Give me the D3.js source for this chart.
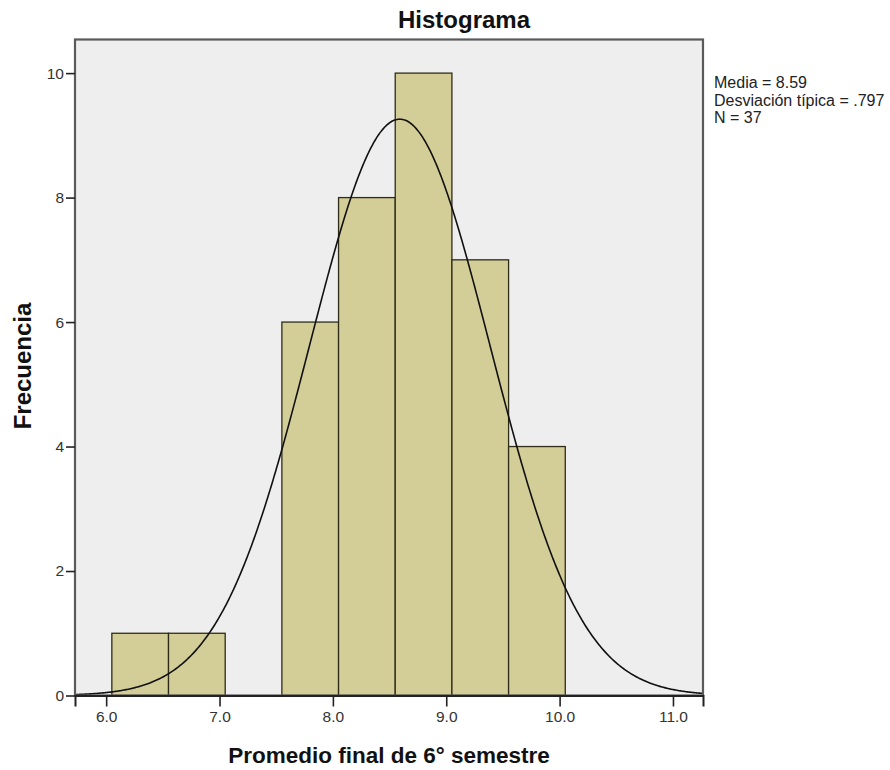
<!DOCTYPE html>
<html>
<head>
<meta charset="utf-8">
<script src="https://cdn.jsdelivr.net/npm/d3@7/dist/d3.min.js"></script>
<style>
  body { margin: 0; background: #ffffff; }
  svg text { font-family: Arial, "Liberation Sans", sans-serif; }
</style>
</head>
<body>
<svg id="chart" width="890" height="770"></svg>
<script>
// Histogram bins (bin width 0.5) and counts
const binStarts = [6.05, 6.55, 7.05, 7.55, 8.05, 8.55, 9.05, 9.55];
const binWidth = 0.5;
const counts = [1, 1, 0, 6, 8, 10, 7, 4];
const xTicks = [6.0, 7.0, 8.0, 9.0, 10.0, 11.0];
const yTicks = [0, 2, 4, 6, 8, 10];
const mean = 8.59;
const sd = 0.797;
const n = 37;
const statLines = ["Media = 8.59", "Desviación típica = .797", "N = 37"];

const svg = d3.select("#chart");
const plotL = 75, plotR = 703, plotT = 39.5, plotB = 695.5;

const x = d3.scaleLinear().domain([5.725, 11.265]).range([plotL, plotR]);
const y = d3.scaleLinear().domain([0, 10.54]).range([plotB, plotT]);

// plot background
svg.append("rect")
  .attr("x", plotL).attr("y", plotT)
  .attr("width", plotR - plotL).attr("height", plotB - plotT)
  .attr("fill", "#eeeeee");

// bars
const bins = binStarts.map((s, i) => ({ x0: s, x1: s + binWidth, c: counts[i] }))
  .filter(d => d.c > 0);
svg.append("g").selectAll("rect").data(bins).join("rect")
  .attr("x", d => x(d.x0))
  .attr("y", d => y(d.c))
  .attr("width", d => x(d.x1) - x(d.x0))
  .attr("height", d => y(0) - y(d.c))
  .attr("fill", "#d3cd98")
  .attr("stroke", "#2e2c18")
  .attr("stroke-width", 1.3);

// normal curve scaled to counts
const scaleK = n * binWidth;
const xs = d3.range(5.725, 11.266, 0.01);
const curve = xs.map(v => [v, scaleK * Math.exp(-0.5 * ((v - mean) / sd) ** 2) / (sd * Math.sqrt(2 * Math.PI))]);
svg.append("path")
  .datum(curve)
  .attr("fill", "none")
  .attr("stroke", "#111")
  .attr("stroke-width", 1.6)
  .attr("d", d3.line().x(d => x(d[0])).y(d => y(d[1])).curve(d3.curveBasis));

// frame
svg.append("rect")
  .attr("x", plotL).attr("y", plotT)
  .attr("width", plotR - plotL).attr("height", plotB - plotT)
  .attr("fill", "none")
  .attr("stroke", "#5a5a5a")
  .attr("stroke-width", 2.2);

// axes
const xAxis = d3.axisBottom(x).tickValues(xTicks).tickFormat(d3.format(".1f")).tickSizeOuter(0).tickSize(11).tickPadding(4);
const gx = svg.append("g").attr("transform", `translate(0,${plotB})`).call(xAxis);
gx.select(".domain").attr("stroke", "#222").attr("stroke-width", 2);
gx.selectAll(".tick line").attr("stroke", "#222").attr("stroke-width", 1.6);
gx.selectAll("text").attr("font-size", 15.5).attr("fill", "#333").attr("font-family", "Arial, 'Liberation Sans', sans-serif");

const yAxis = d3.axisLeft(y).tickValues(yTicks).tickFormat(d3.format("d")).tickSizeOuter(0).tickSize(9).tickPadding(2);
const gy = svg.append("g").attr("transform", `translate(${plotL},0)`).call(yAxis);
gy.select(".domain").remove();
gy.selectAll(".tick line").attr("stroke", "#222").attr("stroke-width", 1.6);
gy.selectAll("text").attr("font-size", 15.5).attr("fill", "#333").attr("font-family", "Arial, 'Liberation Sans', sans-serif");

// title
svg.append("text")
  .attr("x", 464).attr("y", 28)
  .attr("text-anchor", "middle")
  .attr("font-size", 24).attr("font-weight", "bold").attr("fill", "#111")
  .text("Histograma");

// axis labels
svg.append("text")
  .attr("x", 389).attr("y", 763)
  .attr("text-anchor", "middle")
  .attr("font-size", 22.5).attr("font-weight", "bold").attr("fill", "#111")
  .text("Promedio final de 6° semestre");

svg.append("text")
  .attr("transform", "translate(31,366) rotate(-90)")
  .attr("text-anchor", "middle")
  .attr("font-size", 24).attr("font-weight", "bold").attr("fill", "#111")
  .text("Frecuencia");

// summary statistics
svg.append("g").selectAll("text").data(statLines).join("text")
  .attr("x", 714)
  .attr("y", (d, i) => 88 + i * 17.5)
  .attr("font-size", 16).attr("fill", "#222")
  .text(d => d);
</script>
</body>
</html>
